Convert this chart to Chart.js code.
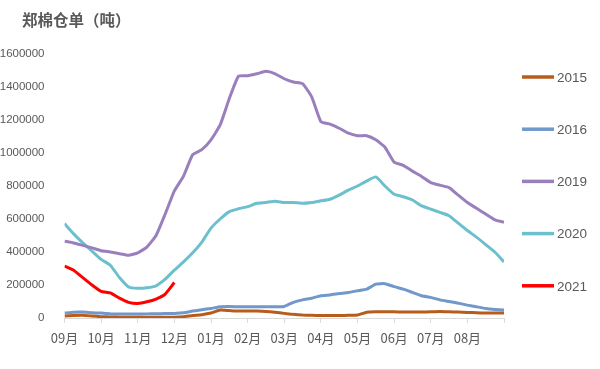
<!DOCTYPE html>
<html>
<head>
<meta charset="utf-8">
<script src="https://cdn.jsdelivr.net/npm/chart.js@4/dist/chart.umd.min.js"></script>
<style>
  body { margin: 0; background: #fff; }
  #wrap { width: 600px; height: 369px; position: relative; }
</style>
</head>
<body>
<div id="wrap"><canvas id="c"></canvas></div>
<script>
// month labels, Sep -> Aug; data sampled 4 times per month
const months = ['09月', '10月', '11月', '12月', '01月', '02月', '03月', '04月', '05月', '06月', '07月', '08月'];
const perMonth = 4;

const y2015 = [12000, 15000, 16000, 12000, 8000, 6000, 5000, 5000, 5000, 5000, 5000, 5000, 5000, 8000, 15000, 20000, 30000, 48000, 45000, 42000, 42000, 42000, 40000, 35000, 28000, 22000, 18000, 16000, 15000, 15000, 15000, 16000, 18000, 35000, 38000, 38000, 38000, 36000, 36000, 36000, 38000, 40000, 38000, 36000, 34000, 32000, 30000, 30000, 30000];
const y2016 = [30000, 35000, 36000, 32000, 30000, 26000, 24000, 24000, 24000, 25000, 26000, 27000, 28000, 32000, 42000, 50000, 58000, 68000, 70000, 68000, 68000, 68000, 68000, 68000, 70000, 95000, 110000, 120000, 135000, 140000, 148000, 155000, 165000, 175000, 205000, 208000, 190000, 175000, 155000, 135000, 125000, 110000, 100000, 90000, 78000, 68000, 58000, 52000, 48000];
const y2019 = [465000, 455000, 440000, 425000, 408000, 400000, 390000, 380000, 395000, 430000, 500000, 630000, 770000, 860000, 990000, 1020000, 1080000, 1170000, 1330000, 1465000, 1468000, 1480000, 1495000, 1480000, 1450000, 1430000, 1420000, 1340000, 1190000, 1175000, 1150000, 1120000, 1105000, 1105000, 1080000, 1035000, 945000, 925000, 890000, 858000, 820000, 805000, 790000, 745000, 700000, 665000, 630000, 595000, 580000];
const y2020 = [572000, 510000, 455000, 405000, 355000, 320000, 245000, 188000, 180000, 183000, 195000, 235000, 290000, 340000, 395000, 460000, 545000, 600000, 645000, 662000, 675000, 695000, 700000, 708000, 700000, 700000, 695000, 700000, 710000, 720000, 745000, 775000, 800000, 830000, 855000, 800000, 750000, 735000, 715000, 680000, 660000, 640000, 620000, 575000, 530000, 490000, 445000, 400000, 340000];
const y2021 = [315000, 290000, 245000, 200000, 162000, 152000, 120000, 95000, 88000, 98000, 115000, 145000, 215000];

const seriesNames = ['2015', '2016', '2019', '2020', '2021'];
const seriesData = [y2015, y2016, y2019, y2020, y2021];
const colors = ['#B85C1B', '#7098CB', '#9A7FBD', '#6CC0CE', '#FF0000'];

const toPoints = arr => arr.map((v, i) => ({ x: i / perMonth, y: v }));

const datasets = seriesNames.map((name, k) => ({
    label: name,
    data: toPoints(seriesData[k]),
    borderColor: colors[k],
    backgroundColor: colors[k],
    borderWidth: 3,
    pointRadius: 0,
    tension: 0.15
}));

const txt = '#595959';

// title + right-hand legend drawn by hand
const decor = {
    id: 'decor',
    afterDraw(chart) {
        const ctx = chart.ctx;
        ctx.save();
        ctx.fillStyle = txt;
        ctx.textBaseline = 'middle';
        ctx.font = 'bold 15.5px "Noto Sans CJK SC"';
        ctx.fillText('郑棉仓单（吨）', 22, 20);
        ctx.font = '13.5px "Liberation Sans"';
        chart.data.datasets.forEach((ds, i) => {
            const y = 77 + i * 52.2;
            ctx.strokeStyle = ds.borderColor;
            ctx.lineWidth = 3.5;
            ctx.beginPath();
            ctx.moveTo(522, y);
            ctx.lineTo(554, y);
            ctx.stroke();
            ctx.fillText(ds.label, 557, y + 1);
        });
        ctx.restore();
    }
};

new Chart(document.getElementById('c'), {
    type: 'line',
    data: { datasets },
    plugins: [decor],
    options: {
        responsive: true,
        maintainAspectRatio: false,
        animation: false,
        layout: { padding: { left: 0, right: 96, top: 54, bottom: 0 } },
        plugins: {
            legend: { display: false },
            tooltip: { enabled: false }
        },
        scales: {
            x: {
                type: 'linear',
                min: 0,
                max: 12,
                afterFit: s => { s.height = 51; },
                grid: { drawOnChartArea: false, drawTicks: true, tickLength: 5, color: '#d9d9d9' },
                border: { color: '#d9d9d9' },
                ticks: {
                    stepSize: 1,
                    padding: 7,
                    color: txt,
                    font: { family: 'Noto Sans CJK SC', size: 13 },
                    maxRotation: 0,
                    callback: v => months[v] || ''
                }
            },
            y: {
                min: 0,
                max: 1600000,
                afterFit: s => { s.width = 64.5; },
                grid: { display: false },
                border: { display: false },
                ticks: {
                    stepSize: 200000,
                    padding: 12,
                    color: txt,
                    font: { family: 'Liberation Sans', size: 11.5 },
                    callback: v => String(v)
                }
            }
        }
    }
});
</script>
</body>
</html>
